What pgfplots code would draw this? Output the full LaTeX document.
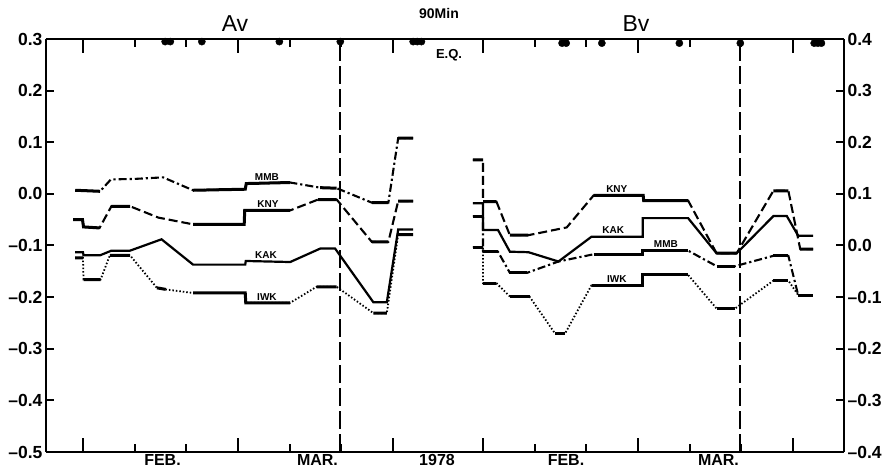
\documentclass[border=0pt]{standalone}
\usepackage{fontspec}
\setmainfont{Liberation Sans}
\usepackage{pgfplots}
\pgfplotsset{compat=1.18}
\tikzset{lab/.style={font=\fontsize{10}{10}\selectfont\bfseries, inner sep=1pt, anchor=south}}
\begin{document}
\begin{tikzpicture}[x=1pt,y=1pt]
\useasboundingbox (0,0) rectangle (886,473);
\pgfplotsset{
  base/.style={scale only axis, height=413pt, anchor=south west, clip=false,
    unbounded coords=jump, tick align=inside,
    major tick length=8pt, minor tick length=8pt,
    xtick={10,20,40,50}, xticklabels={},
    extra x ticks={0,30,60}, extra x tick labels={},
    extra x tick style={major tick length=14pt},
    axis x line=box,
    every tick/.style={black, line width=2pt},
    axis line style={line width=2.2pt, -},
    yticklabel style={font=\fontsize{17.5}{17.5}\selectfont\bfseries},
  },
  mmb/.style={black, line width=2.1pt, dash pattern=on 8pt off 3pt on 2.2pt off 3pt},
  kny/.style={black, line width=2.1pt, dash pattern=on 9pt off 4pt},
  kak/.style={black, line width=2.2pt},
  iwk/.style={black, line width=1.8pt, dash pattern=on 1.5pt off 2pt},
  flat/.style={black, line width=3pt, solid},
  eq/.style={black, line width=2pt, dash pattern=on 18pt off 5pt},
  dots/.style={only marks, mark=*, mark size=3.6pt, black},
}
% ---------------- Av (left) ----------------
\begin{axis}[base, at={(46pt,21pt)}, width=390pt, xmin=-7.16, xmax=68.32,
  ymin=-0.5, ymax=0.3, axis y line*=left,
  ytick={-0.5,-0.4,-0.3,-0.2,-0.1,0,0.1,0.2,0.3},
  yticklabels={–0.5,–0.4,–0.3,–0.2,–0.1,0.0,0.1,0.2,0.3}]
\addplot[eq] coordinates {(49.8,-0.5) (49.8,0.3)};
% MMB
\addplot[mmb] coordinates {(-1.5,0.007) (3.3,0.005) (5.4,0.028) (10,0.029) (15.5,0.032) (21.3,0.007) (31.4,0.009) (31.6,0.020) (40.1,0.022) (45.9,0.012) (49.1,0.011) (55.9,-0.017) (59.1,-0.017) (61.0,0.108) (63.9,0.108)};
\addplot[flat] coordinates {(-1.5,0.007) (3.3,0.005) (0,nan) (21.3,0.007) (31.4,0.009) (31.6,0.020) (40.1,0.022) (0,nan) (45.9,0.012) (49.1,0.011) (0,nan) (55.9,-0.017) (59.1,-0.017) (0,nan) (61.0,0.108) (63.9,0.108)};
% KNY
\addplot[kny] coordinates {(-1.9,-0.050) (-0.1,-0.050) (0.1,-0.064) (3.2,-0.066) (5.5,-0.024) (9.1,-0.024) (14.6,-0.046) (21.3,-0.059) (31.2,-0.059) (31.3,-0.032) (40.1,-0.032) (45.5,-0.011) (49.1,-0.011) (55.9,-0.093) (59.1,-0.093) (61.0,-0.014) (63.9,-0.014)};
\addplot[flat] coordinates {(-1.9,-0.050) (-0.1,-0.050) (0.1,-0.064) (3.2,-0.066) (0,nan) (5.5,-0.024) (9.1,-0.024) (0,nan) (21.3,-0.059) (31.2,-0.059) (31.3,-0.032) (40.1,-0.032) (0,nan) (45.5,-0.011) (49.1,-0.011) (0,nan) (55.9,-0.093) (59.1,-0.093) (0,nan) (61.0,-0.014) (63.9,-0.014)};
% KAK
\addplot[kak] coordinates {(-1.5,-0.113) (0,-0.113) (0.1,-0.119) (3.3,-0.119) (5.5,-0.110) (9.1,-0.110) (15.2,-0.088) (21.3,-0.137) (31.4,-0.137) (31.5,-0.130) (40.1,-0.132) (45.9,-0.106) (48.8,-0.106) (56.2,-0.210) (58.8,-0.210) (61.0,-0.069) (63.9,-0.069)};
% IWK
\addplot[iwk] coordinates {(-1.5,-0.124) (0,-0.124) (0.1,-0.166) (3.4,-0.166) (5.2,-0.119) (9.1,-0.119) (14.3,-0.182) (16,-0.185) (21.3,-0.192) (31.4,-0.192) (31.5,-0.211) (40.1,-0.211) (45.2,-0.180) (49.1,-0.180) (56.2,-0.231) (58.8,-0.231) (61.0,-0.079) (63.9,-0.079)};
\addplot[flat] coordinates {(-1.5,-0.124) (0,-0.124) (0,nan) (0.1,-0.166) (3.4,-0.166) (0,nan) (5.2,-0.119) (9.1,-0.119) (0,nan) (14.3,-0.182) (16,-0.185) (0,nan) (21.3,-0.192) (31.4,-0.192) (31.5,-0.211) (40.1,-0.211) (0,nan) (45.2,-0.180) (49.1,-0.180) (0,nan) (56.2,-0.231) (58.8,-0.231) (0,nan) (61.0,-0.079) (63.9,-0.079)};
% earthquakes
\addplot[dots] coordinates {(15.9,0.295) (16.9,0.295) (23.0,0.295) (38.0,0.295) (49.8,0.295) (63.9,0.295) (64.7,0.295) (65.5,0.295)};
\node[lab] at (axis cs:35.6,0.024) {MMB};
\node[lab] at (axis cs:35.8,-0.029) {KNY};
\node[lab] at (axis cs:35.4,-0.128) {KAK};
\node[lab] at (axis cs:35.6,-0.208) {IWK};
\end{axis}
% ---------------- Bv (right) ----------------
\begin{axis}[base, at={(436pt,21pt)}, width=408pt, xmin=-9.10, xmax=69.87,
  ymin=-0.4, ymax=0.4, axis y line*=right,
  ytick={-0.4,-0.3,-0.2,-0.1,0,0.1,0.2,0.3,0.4},
  yticklabels={–0.4,–0.3,–0.2,–0.1,0.0,0.1,0.2,0.3,0.4}]
\addplot[eq] coordinates {(49.8,-0.4) (49.8,0.4)};
% KNY
\addplot[kny] coordinates {(-1.94,0.166) (0,0.166) (0,0.085) (2.6,0.085) (5.2,0.020) (8.8,0.020) (16.2,0.035) (21.4,0.097) (31.0,0.097) (31.1,0.087) (39.7,0.087) (45.2,-0.015) (49.1,-0.015) (56.2,0.106) (59.1,0.106) (61.4,-0.007) (63.9,-0.007)};
\addplot[flat] coordinates {(-1.94,0.166) (0,0.166) (0,nan) (0,0.085) (2.6,0.085) (0,nan) (5.2,0.020) (8.8,0.020) (0,nan) (21.4,0.097) (31.0,0.097) (31.1,0.087) (39.7,0.087) (0,nan) (45.2,-0.015) (49.1,-0.015) (0,nan) (56.2,0.106) (59.1,0.106) (0,nan) (61.4,-0.007) (63.9,-0.007)};
% KAK
\addplot[kak] coordinates {(-1.94,0.082) (0,0.082) (0,0.030) (2.9,0.030) (5.2,-0.012) (8.8,-0.013) (14.6,-0.031) (21.0,0.017) (30.9,0.017) (30.9,0.053) (39.7,0.053) (45.2,-0.015) (49.1,-0.015) (56.2,0.057) (58.8,0.057) (61.0,0.019) (63.9,0.019)};
% MMB
\addplot[mmb] coordinates {(-1.94,0.057) (0,0.057) (0,-0.012) (2.9,-0.012) (5.2,-0.053) (8.5,-0.053) (14.6,-0.031) (21.4,-0.017) (30.9,-0.017) (30.9,-0.010) (39.7,-0.010) (45.2,-0.040) (48.8,-0.040) (56.2,-0.020) (59.1,-0.020) (61.0,-0.096) (63.9,-0.096)};
\addplot[flat] coordinates {(-1.94,0.057) (0,0.057) (0,nan) (0,-0.012) (2.9,-0.012) (0,nan) (5.2,-0.053) (8.5,-0.053) (0,nan) (21.4,-0.017) (30.9,-0.017) (30.9,-0.010) (39.7,-0.010) (0,nan) (45.2,-0.040) (48.8,-0.040) (0,nan) (56.2,-0.020) (59.1,-0.020) (0,nan) (61.0,-0.096) (63.9,-0.096)};
% IWK
\addplot[iwk] coordinates {(-1.94,-0.003) (0,-0.003) (0,-0.073) (2.6,-0.073) (5.2,-0.099) (9.0,-0.099) (13.9,-0.170) (15.9,-0.170) (21.0,-0.077) (30.9,-0.077) (30.9,-0.057) (39.7,-0.057) (45.2,-0.122) (48.8,-0.122) (56.2,-0.068) (59.1,-0.068) (61.0,-0.096) (63.9,-0.096)};
\addplot[flat] coordinates {(-1.94,-0.003) (0,-0.003) (0,nan) (0,-0.073) (2.6,-0.073) (0,nan) (5.2,-0.099) (9.0,-0.099) (0,nan) (13.9,-0.170) (15.9,-0.170) (0,nan) (21.0,-0.077) (30.9,-0.077) (30.9,-0.057) (39.7,-0.057) (0,nan) (45.2,-0.122) (48.8,-0.122) (0,nan) (56.2,-0.068) (59.1,-0.068) (0,nan) (61.0,-0.096) (63.9,-0.096)};
% earthquakes
\addplot[dots] coordinates {(15.3,0.392) (16.1,0.392) (23.0,0.392) (38.0,0.392) (49.8,0.392) (64.1,0.392) (64.8,0.392) (65.5,0.392)};
\node[lab] at (axis cs:25.9,0.100) {KNY};
\node[lab] at (axis cs:25.2,0.020) {KAK};
\node[lab] at (axis cs:35.4,-0.007) {MMB};
\node[lab] at (axis cs:25.9,-0.074) {IWK};
\end{axis}
% ---------------- texts ----------------
\node[font=\fontsize{23}{23}\selectfont] at (235,449) {Av};
\node[font=\fontsize{23}{23}\selectfont] at (636,449) {Bv};
\node[font=\fontsize{14}{14}\selectfont\bfseries] at (439,459) {90Min};
\node[font=\fontsize{13}{13}\selectfont\bfseries] at (449,418) {E.Q.};
\begin{scope}[every node/.style={font=\fontsize{16}{16}\selectfont\bfseries}]
\node at (162.5,13) {FEB.};
\node at (317.5,13) {MAR.};
\node at (437,13) {1978};
\node at (566,13) {FEB.};
\node at (718.5,13) {MAR.};
\end{scope}
\end{tikzpicture}
\end{document}
